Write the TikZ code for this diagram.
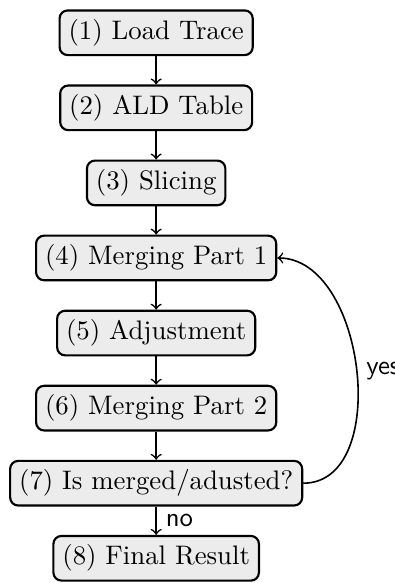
\documentclass[tikz,border=0pt]{standalone}
\usepackage{tikz}
\usetikzlibrary{positioning, arrows}
\tikzset{
  ->,
  >=to,
  node distance=0.985cm,
  stepbox/.style={draw, thick, rounded corners=3pt, fill=gray!15},
  cond/.style={font=\sffamily},
}

\begin{document}
\begin{tikzpicture}
  % steps
  \node[stepbox] (s1) {(1) Load Trace};
  \node[stepbox, below of=s1] (s2) {(2) ALD Table};
  \node[stepbox, below of=s2] (s3) {(3) Slicing};
  \node[stepbox, below of=s3] (s4) {(4) Merging Part 1};
  \node[stepbox, below of=s4] (s5) {(5) Adjustment};
  \node[stepbox, below of=s5] (s6) {(6) Merging Part 2};
  \node[stepbox, below of=s6] (s7) {(7) Is merged/adusted?};
  \node[stepbox, below of=s7] (s8) {(8) Final Result};

  % arrows
  \draw[semithick] (s1) edge node{} (s2)
  (s2) edge node{} (s3)
  (s3) edge node{} (s4)
  (s4) edge node{} (s5)
  (s5) edge node{} (s6)
  (s6) edge node{} (s7)
  (s7) edge[right] node[cond]{no} (s8)
  (s7) edge[out=0, in=0, right] node[cond]{yes} (s4);

  \pgfresetboundingbox
  \path[use as bounding box] ([xshift=-58.3pt,yshift=3.5pt]s1.north)
    rectangle ([xshift=89.1pt,yshift=-0.5pt]s8.south);
\end{tikzpicture}
\end{document}
